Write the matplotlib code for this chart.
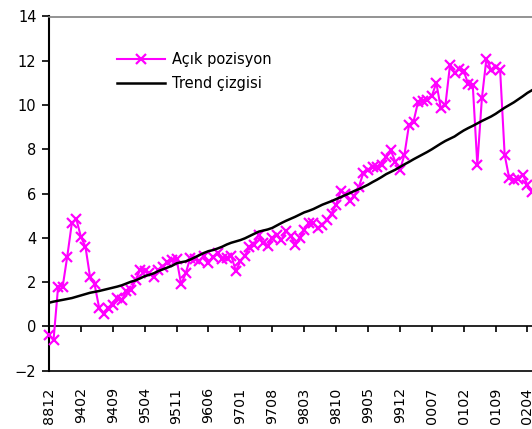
import matplotlib
matplotlib.use("Agg")
import matplotlib.pyplot as plt
import numpy as np

# open position series, one value per month category
acik_pozisyon = [
    -0.4, -0.6, 1.8, 1.8, 3.15, 4.65, 4.85, 4.05, 3.6, 2.25, 1.9, 0.85, 0.55, 0.85,
    0.95, 1.3, 1.2, 1.6, 1.65, 2.1, 2.55, 2.5, 2.4, 2.25, 2.55, 2.7, 2.9, 3.0,
    3.05, 1.9, 2.4, 3.1, 3.05, 2.95, 3.2, 2.85, 3.15, 3.3, 3.05, 3.1, 3.2, 2.5,
    2.95, 3.2, 3.6, 3.7, 4.15, 3.75, 3.65, 4.0, 4.15, 3.9, 4.3, 4.1, 3.7, 4.0,
    4.35, 4.65, 4.65, 4.45, 4.6, 4.8, 5.1, 5.5, 6.1, 6.0, 5.65, 5.9, 6.3, 6.95,
    7.05, 7.2, 7.2, 7.3, 7.65, 7.95, 7.45, 7.05, 7.75, 9.1, 9.25, 10.15, 10.2, 10.25,
    10.4, 11.0, 9.85, 10.0, 11.8, 11.45, 11.65, 11.55, 10.95, 10.9, 7.3, 10.3, 12.1, 11.6,
    11.7, 11.6, 7.75, 6.7, 6.6, 6.65, 6.85, 6.4, 6.05,
]

trend_cizgisi = [
    1.07, 1.12, 1.16, 1.20, 1.24, 1.28, 1.34, 1.40,
    1.46, 1.52, 1.56, 1.60, 1.65, 1.70, 1.75,
    1.80, 1.86, 1.94, 2.02, 2.08, 2.17, 2.27,
    2.33, 2.40, 2.50, 2.58, 2.66, 2.74, 2.85,
    2.90, 2.94, 3.02, 3.12, 3.22, 3.32, 3.40,
    3.45, 3.52, 3.60, 3.70, 3.78, 3.84, 3.90,
    3.98, 4.08, 4.18, 4.28, 4.33, 4.38, 4.45,
    4.56, 4.67, 4.77, 4.86, 4.95, 5.05, 5.15,
    5.22, 5.30, 5.40, 5.50, 5.58, 5.66, 5.75,
    5.84, 5.93, 6.02, 6.12, 6.20, 6.30, 6.40,
    6.52, 6.63, 6.75, 6.88, 6.98, 7.08, 7.20,
    7.32, 7.43, 7.55, 7.66, 7.77, 7.88, 8.00,
    8.13, 8.26, 8.38, 8.48, 8.58, 8.72, 8.85,
    8.96, 9.06, 9.17, 9.28, 9.38, 9.48, 9.60,
    9.74, 9.88, 10.00, 10.12, 10.26, 10.40, 10.55,
    10.67,
]

tick_labels = ['8812', '9402', '9409', '9504', '9511', '9606', '9701', '9708',
               '9803', '9810', '9905', '9912', '0007', '0102', '0109', '0204']
label_step = 7

W, H = 532, 429
fig = plt.figure(figsize=(W / 100, H / 100), dpi=100)
ax = fig.add_axes([49 / W, 1 - 370.7 / H, (W - 49) / W, (370.7 - 16.5) / H])

x = np.arange(len(acik_pozisyon))
ax.plot(x, acik_pozisyon, color='#FF00FF', lw=1.5, marker='x', ms=7.5, mew=1.6,
        label='Açık pozisyon', clip_on=False, zorder=3)
ax.plot(x, trend_cizgisi, color='black', lw=1.8, label='Trend çizgisi', zorder=4)

ax.set_xlim(0, 106)
ax.set_ylim(-2, 14)

# zero line with category ticks hanging below it
tick_pos = np.arange(len(tick_labels)) * label_step
ax.axhline(0, color='black', lw=1.2, zorder=2)
ax.vlines(tick_pos, -0.27, 0, color='black', lw=1.2)

ax.set_xticks(tick_pos)
ax.set_xticklabels(tick_labels, rotation=90, fontsize=10.3)
ax.tick_params(axis='x', length=0, pad=12)
ax.set_yticks(np.arange(-2, 15, 2))
ax.tick_params(axis='y', length=5, width=1.2, pad=4, labelsize=10.5)

ax.spines['right'].set_visible(False)
ax.spines['top'].set_color('#808080')
ax.spines['top'].set_linewidth(1.2)
ax.spines['left'].set_linewidth(1.5)
ax.spines['bottom'].set_linewidth(1.2)

ax.legend(loc='upper left', bbox_to_anchor=(117 / W, 1 - 52 / H),
          bbox_transform=fig.transFigure, frameon=False, fontsize=10.5,
          handlelength=3.3, handletextpad=0.5, labelspacing=0.6,
          borderpad=0, borderaxespad=0)

fig.savefig('out.png', dpi=100)
